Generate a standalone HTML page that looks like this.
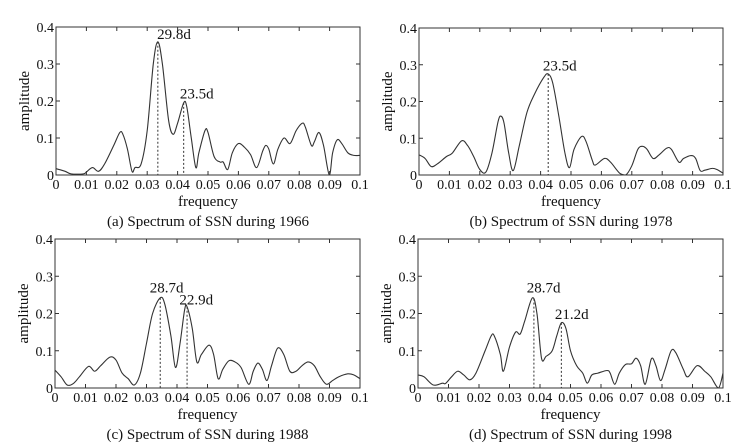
<!DOCTYPE html>
<html><head><meta charset="utf-8">
<style>
body{margin:0;background:#fff;}
svg{display:block;font-family:"Liberation Serif",serif;}
</style></head>
<body>
<svg id="chart" width="741" height="448" viewBox="0 0 741 448" xmlns="http://www.w3.org/2000/svg"></svg>
<script>
// Panel (a) 1966
const freqA=[0,0.003,0.005,0.009,0.010,0.012,0.014,0.016,0.019,0.021,0.022,0.0235,0.025,0.026,0.028,0.030,0.032,0.0335,0.035,0.037,0.0385,0.040,0.042,0.043,0.0445,0.046,0.047,0.049,0.050,0.052,0.054,0.055,0.0565,0.058,0.060,0.062,0.064,0.066,0.068,0.069,0.070,0.0715,0.073,0.075,0.077,0.079,0.081,0.082,0.084,0.085,0.0865,0.088,0.0899,0.091,0.0925,0.094,0.096,0.098,0.1];
const ampA=[0.017,0.01,0.003,0.003,0.008,0.02,0.01,0.03,0.08,0.115,0.11,0.07,0.01,0.02,0.03,0.12,0.30,0.36,0.30,0.15,0.11,0.14,0.195,0.185,0.10,0.02,0.06,0.12,0.115,0.05,0.035,0.035,0.015,0.06,0.085,0.075,0.055,0.02,0.065,0.08,0.07,0.03,0.07,0.10,0.085,0.12,0.14,0.13,0.08,0.09,0.115,0.08,0.0,0.06,0.095,0.085,0.06,0.053,0.053];
const peaksA=[0.0335,0.042];
const peakAmpA=[0.36,0.195];
const labelsA=["29.8d","23.5d"];
const labelXA=[0.0388,0.0463];
const labelYA=[0.367,0.207];
// Panel (b) 1978
const freqB=[0,0.002,0.004,0.006,0.009,0.011,0.014,0.016,0.018,0.020,0.022,0.024,0.026,0.027,0.028,0.0295,0.031,0.033,0.0355,0.038,0.041,0.0425,0.044,0.046,0.048,0.0495,0.051,0.0535,0.055,0.057,0.058,0.061,0.063,0.066,0.068,0.070,0.072,0.0735,0.075,0.077,0.079,0.0815,0.083,0.0855,0.087,0.0895,0.091,0.0925,0.094,0.0965,0.098,0.1];
const ampB=[0.055,0.045,0.023,0.03,0.05,0.06,0.093,0.08,0.05,0.015,0.008,0.06,0.145,0.16,0.14,0.06,0.012,0.08,0.17,0.22,0.265,0.275,0.25,0.16,0.06,0.02,0.07,0.105,0.09,0.04,0.027,0.045,0.035,0.005,0.0,0.025,0.07,0.078,0.07,0.045,0.055,0.073,0.07,0.035,0.045,0.053,0.045,0.012,0.013,0.018,0.015,0.005];
const peaksB=[0.0425];
const peakAmpB=[0.275];
const labelsB=["23.5d"];
const labelXB=[0.0463];
const labelYB=[0.284];
// Panel (c) 1988
const freqC=[0,0.002,0.004,0.006,0.008,0.011,0.013,0.015,0.018,0.020,0.022,0.024,0.026,0.028,0.030,0.032,0.0345,0.036,0.038,0.0395,0.041,0.0425,0.0433,0.045,0.0465,0.048,0.0505,0.052,0.0535,0.055,0.057,0.059,0.061,0.0635,0.065,0.0665,0.068,0.0695,0.071,0.073,0.075,0.077,0.079,0.081,0.083,0.085,0.087,0.089,0.091,0.093,0.096,0.098,0.1];
const ampC=[0.048,0.03,0.008,0.012,0.03,0.058,0.045,0.06,0.083,0.075,0.04,0.025,0.008,0.04,0.12,0.2,0.242,0.225,0.14,0.055,0.12,0.21,0.218,0.16,0.07,0.09,0.115,0.09,0.025,0.05,0.073,0.07,0.055,0.01,0.045,0.067,0.05,0.02,0.06,0.107,0.09,0.045,0.045,0.06,0.07,0.06,0.03,0.01,0.02,0.03,0.038,0.035,0.025];
const peaksC=[0.0345,0.0433];
const peakAmpC=[0.242,0.218];
const labelsC=["28.7d","22.9d"];
const labelXC=[0.0366,0.0463];
const labelYC=[0.257,0.224];
// Panel (d) 1998
const freqD=[0,0.002,0.005,0.008,0.009,0.011,0.013,0.015,0.017,0.019,0.022,0.024,0.025,0.027,0.028,0.030,0.032,0.0335,0.035,0.0375,0.039,0.0405,0.042,0.044,0.0455,0.047,0.0485,0.050,0.052,0.054,0.0555,0.057,0.059,0.062,0.063,0.0645,0.066,0.068,0.070,0.0715,0.073,0.0745,0.0765,0.078,0.0795,0.081,0.083,0.0845,0.087,0.0885,0.0915,0.094,0.096,0.0985,0.1];
const ampD=[0.035,0.03,0.008,0.013,0.012,0.03,0.045,0.035,0.022,0.04,0.1,0.14,0.14,0.09,0.045,0.11,0.15,0.145,0.18,0.242,0.2,0.08,0.085,0.1,0.14,0.175,0.16,0.1,0.06,0.04,0.013,0.035,0.04,0.047,0.04,0.01,0.04,0.063,0.065,0.08,0.06,0.01,0.078,0.06,0.02,0.05,0.1,0.095,0.05,0.03,0.06,0.045,0.03,0.0,0.04];
const peaksD=[0.038,0.047];
const peakAmpD=[0.24,0.175];
const labelsD=["28.7d","21.2d"];
const labelXD=[0.0412,0.0504];
const labelYD=[0.256,0.185];

const xTicks=[0,0.01,0.02,0.03,0.04,0.05,0.06,0.07,0.08,0.09,0.1];
const xTickLabels=["0","0.01","0.02","0.03","0.04","0.05","0.06","0.07","0.08","0.09","0.1"];
const yTicks=[0,0.1,0.2,0.3,0.4];
const yTickLabels=["0","0.1","0.2","0.3","0.4"];

const NS="http://www.w3.org/2000/svg";
const svg=document.getElementById('chart');
function mk(tag,attrs,parent){const e=document.createElementNS(NS,tag);for(const k in attrs)e.setAttribute(k,attrs[k]);(parent||svg).appendChild(e);return e;}

const panels=[
 {id:'a',L:56,R:360,T:27,B:175,f:freqA,a:ampA,pk:peaksA,pa:peakAmpA,lb:labelsA,lx:labelXA,ly:labelYA,cap:"(a)  Spectrum of SSN during 1966"},
 {id:'b',L:419,R:723,T:28,B:175,f:freqB,a:ampB,pk:peaksB,pa:peakAmpB,lb:labelsB,lx:labelXB,ly:labelYB,cap:"(b)  Spectrum of SSN during 1978"},
 {id:'c',L:55,R:360,T:239,B:388,f:freqC,a:ampC,pk:peaksC,pa:peakAmpC,lb:labelsC,lx:labelXC,ly:labelYC,cap:"(c)  Spectrum of SSN during 1988"},
 {id:'d',L:418,R:723,T:239,B:388,f:freqD,a:ampD,pk:peaksD,pa:peakAmpD,lb:labelsD,lx:labelXD,ly:labelYD,cap:"(d)  Spectrum of SSN during 1998"}
];

panels.forEach(p=>{
  const g=mk('g',{});
  
  
  const sx=v=>p.L+(v/0.1)*(p.R-p.L);
  const sy=v=>p.B-(v/0.4)*(p.B-p.T);
  // series (Catmull-Rom smoothing)
  const pts=p.f.map((f,i)=>[sx(f),sy(p.a[i])]);
  let d='M'+pts[0][0].toFixed(2)+','+pts[0][1].toFixed(2);
  for(let i=0;i<pts.length-1;i++){
    const p0=pts[i-1]||pts[i],p1=pts[i],p2=pts[i+1],p3=pts[i+2]||p2;
    let c1y=p1[1]+(p2[1]-p0[1])/6, c2y=p2[1]-(p3[1]-p1[1])/6;
    c1y=Math.min(c1y,p.B);c2y=Math.min(c2y,p.B);
    d+=' C'+(p1[0]+(p2[0]-p0[0])/6).toFixed(2)+','+c1y.toFixed(2)+' '+(p2[0]-(p3[0]-p1[0])/6).toFixed(2)+','+c2y.toFixed(2)+' '+p2[0].toFixed(2)+','+p2[1].toFixed(2);
  }
  const line=mk('path',{d:d,fill:'none',stroke:'#333',"stroke-width":1.1},g);
  
  
  // peak markers
  p.pk.forEach((f,i)=>{
    const l=mk('line',{x1:sx(f),x2:sx(f),y1:sy(p.pa[i]),y2:p.B,stroke:'#333',"stroke-width":1,"stroke-dasharray":"2,2"},g);
    
    
    const t=mk('text',{x:sx(p.lx[i]),y:sy(p.ly[i]),"text-anchor":"middle","font-size":15,fill:'#111'},g);
    t.textContent=p.lb[i];
    
    
  });
  // axes box
  const box=mk('rect',{x:p.L,y:p.T,width:p.R-p.L,height:p.B-p.T,fill:'none',stroke:'#333',"stroke-width":1},g);
  
  
  xTicks.forEach((v,i)=>{
    const x=sx(v);
    mk('line',{x1:x,x2:x,y1:p.B,y2:p.B-4,stroke:'#333'},g);
    mk('line',{x1:x,x2:x,y1:p.T,y2:p.T+4,stroke:'#333'},g);
    const t=mk('text',{x:x,y:p.B+14,"text-anchor":"middle","font-size":14,fill:'#111'},g);
    t.textContent=xTickLabels[i];
    
    
  });
  yTicks.forEach((v,i)=>{
    const y=sy(v);
    mk('line',{x1:p.L,x2:p.L+4,y1:y,y2:y,stroke:'#333'},g);
    mk('line',{x1:p.R,x2:p.R-4,y1:y,y2:y,stroke:'#333'},g);
    const t=mk('text',{x:p.L-2,y:y+5,"text-anchor":"end","font-size":14,fill:'#111'},g);
    t.textContent=yTickLabels[i];
    
    
  });
  const xt=mk('text',{x:(p.L+p.R)/2,y:p.B+31,"text-anchor":"middle","font-size":15,fill:'#111'},g);
  xt.textContent='frequency';
  
  
  const yx=p.L-27, yy=(p.T+p.B)/2;
  const yt=mk('text',{x:yx,y:yy,"text-anchor":"middle","font-size":15,fill:'#111',transform:'rotate(-90 '+yx+' '+yy+')'},g);
  yt.textContent='amplitude';
  
  
  const cp=mk('text',{x:(p.L+p.R)/2,y:p.B+51,"text-anchor":"middle","font-size":15,fill:'#111'},g);
  cp.textContent=p.cap;
  
  
});
</script>
</body></html>
